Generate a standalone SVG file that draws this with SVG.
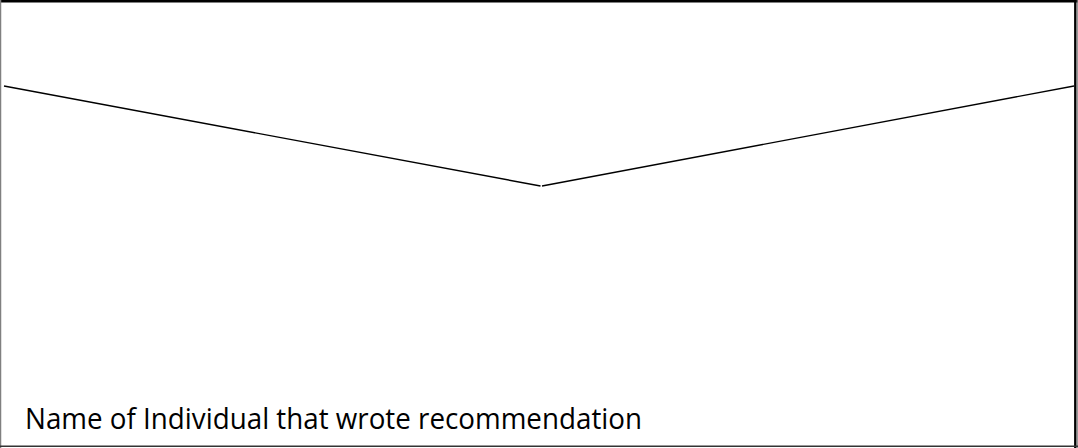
<svg xmlns="http://www.w3.org/2000/svg" width="1078" height="448" viewBox="0 0 1078 448">
  <style>
    .flap { stroke: #000; stroke-width: 1.4; fill: none; }
    .label { font-family: "Open Sans", "Liberation Sans", sans-serif; font-size: 28.5px; fill: #000; }
  </style>
  <rect width="1078" height="448" fill="#fff"/>
  <g id="envelope">
    <line x1="0" y1="1.3" x2="1078" y2="1.3" stroke="#000" stroke-width="2.6"/>
    <line x1="0.5" y1="0" x2="0.5" y2="448" stroke="#808080" stroke-width="1.5"/>
    <line x1="1075.3" y1="0" x2="1075.3" y2="448" stroke="#000" stroke-width="2.4"/>
    <line x1="1077.3" y1="0" x2="1077.3" y2="448" stroke="#808080" stroke-width="1"/>
    <line x1="0" y1="446.3" x2="1078" y2="446.3" stroke="#333" stroke-width="1.5"/>
  </g>
  <g id="connectors">
    <line class="flap" x1="4" y1="86" x2="540.5" y2="186"/>
    <line class="flap" x1="542" y1="186" x2="1074" y2="86"/>
  </g>
  <g id="label">
    <text class="label" x="25" y="429" textLength="617" lengthAdjust="spacingAndGlyphs">Name of Individual that wrote recommendation</text>
  </g>
</svg>
